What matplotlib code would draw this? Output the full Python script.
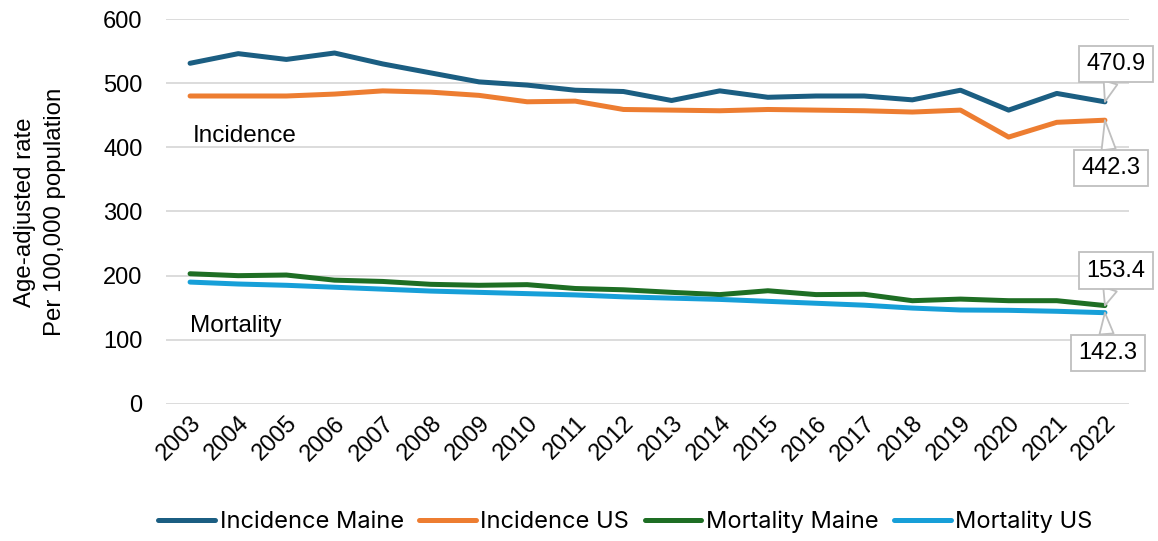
import matplotlib
matplotlib.use("Agg")
import matplotlib.pyplot as plt

years = [str(y) for y in range(2003, 2023)]
incidence_maine = [531, 546, 537, 547, 530, 516, 502, 497, 489, 487, 473, 488, 478, 480, 480, 474, 489, 458, 484, 470.9]
incidence_us = [480, 480, 480, 483, 488, 486, 481, 471, 472, 459, 458, 457, 459, 458, 457, 455, 458, 416, 439, 442.3]
mortality_maine = [203, 200, 201, 193, 191, 186.5, 185, 186, 180, 178, 174, 170.5, 176.5, 170.5, 171, 161, 163.5, 161, 161, 153.4]
mortality_us = [190, 187, 185, 182, 179, 176, 174, 172, 170, 167, 165, 163, 160, 157, 154, 149.5, 146.5, 146, 144.5, 142.3]
series_names = ["Incidence Maine", "Incidence US", "Mortality Maine", "Mortality US"]
colors = ["#1B5E82", "#ED7D31", "#1E6E24", "#179FD8"]

plt.rcParams['font.family'] = ['Liberation Sans', 'DejaVu Sans']

fig = plt.figure(figsize=(11.58, 5.41), dpi=100)
ax = fig.add_axes([166/1158, 1-404/541, (1129-166)/1158, (404-19)/541])

x = list(range(len(years)))
for vals, name, c in zip([incidence_maine, incidence_us, mortality_maine, mortality_us], series_names, colors):
    ax.plot(x, vals, color=c, lw=3.6, label=name, solid_capstyle='round', solid_joinstyle='round', zorder=3)

ax.set_xlim(-0.5, len(years)-0.5)
ax.set_ylim(0, 600)
ax.set_yticks(range(0, 601, 100))
ax.set_xticks(x)
ax.set_xticklabels(years, rotation=45, ha='right', va='top', rotation_mode='anchor', fontsize=17)
ax.tick_params(axis='y', labelsize=17, length=0, pad=17)
ax.tick_params(axis='x', length=0, pad=6)
ax.grid(axis='y', color='#d9d9d9', lw=1.3, zorder=0)
for s in ax.spines.values():
    s.set_visible(False)

fig.text(40/1158, 1-212/541, "Age-adjusted rate\nPer 100,000 population", rotation=90,
         ha='center', va='center', fontsize=17.3, linespacing=1.5)

ax.text(0.05, 418, "Incidence", fontsize=17.5, ha='left', va='center')
ax.text(0.0, 121, "Mortality", fontsize=17.5, ha='left', va='center')

box = dict(boxstyle='square,pad=0.3', fc='white', ec='#bfbfbf', lw=1.3)
arr = dict(arrowstyle='wedge,tail_width=0.6,shrink_factor=0.5', fc='white', ec='#bfbfbf', lw=1.3,
           shrinkA=0, shrinkB=0)
last = len(years) - 1
for val, off in [(incidence_maine[-1], (11, 38)), (incidence_us[-1], (6, -48)),
                 (mortality_maine[-1], (11, 35)), (mortality_us[-1], (3, -40))]:
    ax.annotate(f"{val:.1f}", xy=(last, val), xytext=off, textcoords='offset pixels',
                ha='center', va='center', fontsize=17, bbox=box, arrowprops=arr, zorder=5,
                annotation_clip=False)

leg = ax.legend(loc='center', bbox_to_anchor=(0.477, -0.307), ncol=4, frameon=False,
                prop={'family': ['Inter', 'DejaVu Sans'], 'size': 17},
                handlelength=2.4, handletextpad=0.2, columnspacing=0.65)

fig.savefig("out.png", dpi=100)
